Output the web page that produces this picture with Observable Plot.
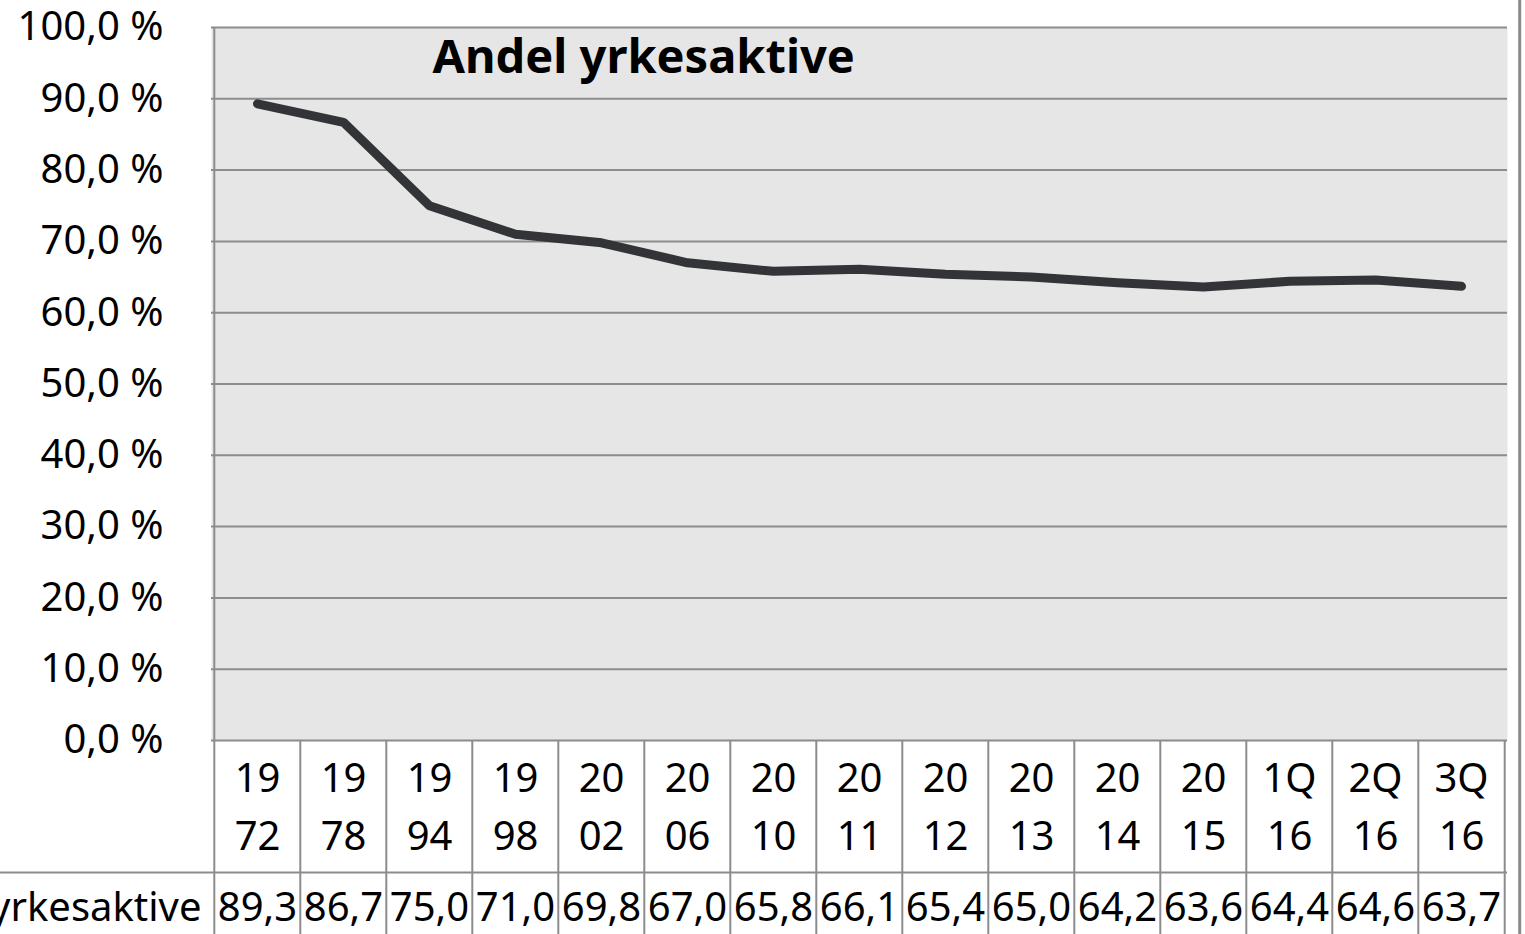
<!DOCTYPE html>
<html>
<head>
<meta charset="utf-8">
<script src="https://cdn.jsdelivr.net/npm/d3@7"></script>
<script src="https://cdn.jsdelivr.net/npm/@observablehq/plot@0.6"></script>
<style>
  html, body { margin: 0; padding: 0; background: #fff; overflow: hidden; }
</style>
</head>
<body>
<div id="chart"></div>
<script>
// ---- data ----
const categories = ["1972","1978","1994","1998","2002","2006","2010","2011","2012","2013","2014","2015","1Q16","2Q16","3Q16"];
const values = [89.3, 86.7, 75.0, 71.0, 69.8, 67.0, 65.8, 66.1, 65.4, 65.0, 64.2, 63.6, 64.4, 64.6, 63.7];
const yTicks = [0, 10, 20, 30, 40, 50, 60, 70, 80, 90, 100];
const seriesName = "Andel yrkesaktive";
const title = "Andel yrkesaktive";

const data = categories.map((c, i) => ({cat: c, value: values[i]}));

// ---- layout ----
const W = 1525, H = 934;
const mL = 211, mR = 18, mT = 27, mB = 194;
const plotH = H - mT - mB;
const bw = (W - mL - mR) / categories.length;
const grid = "#8c8c8c";
const fmt = v => v.toFixed(1).replace(".", ",");

const chart = Plot.plot({
  width: W,
  height: H,
  marginLeft: mL,
  marginRight: mR,
  marginTop: mT,
  marginBottom: mB,
  style: {fontFamily: "'Noto Sans', sans-serif", fontSize: "40px", color: "#000", background: "#fff"},
  x: {type: "band", domain: categories, padding: 0, axis: null},
  y: {domain: [0, 100], axis: null},
  marks: [
    Plot.frame({fill: "#e6e6e6", stroke: null}),
    Plot.ruleY(yTicks, {stroke: grid, strokeWidth: 2}),
    // table lines
    Plot.ruleY([0], {dy: 132, stroke: grid, strokeWidth: 2, insetLeft: -mL}),
    Plot.ruleX(categories.slice(1), {dx: -bw / 2, stroke: grid, strokeWidth: 2, insetTop: plotH, insetBottom: -mB}),
    Plot.ruleX(categories.slice(0, 1), {dx: -bw / 2, stroke: grid, strokeWidth: 2, insetTop: 0, insetBottom: -mB}),
    Plot.ruleX(categories.slice(-1), {dx: bw / 2, stroke: grid, strokeWidth: 2, insetTop: plotH, insetBottom: -mB}),
    // outer right border
    Plot.ruleX(categories.slice(-1), {dx: bw / 2 + 15, stroke: "#8a8a8a", strokeWidth: 3, insetTop: -mT, insetBottom: -mB}),
    // series line
    Plot.line(data, {x: "cat", y: "value", stroke: "#333438", strokeWidth: 9, strokeLinejoin: "round", strokeLinecap: "round"}),
    // title
    Plot.text([title], {frameAnchor: "top-left", textAnchor: "start", lineAnchor: "bottom", dx: 221, dy: 45, fontWeight: "bold", fontSize: 47, fill: "#000"}),
    // y axis labels
    Plot.axisY(yTicks, {tickSize: 0, tickPadding: 48, tickFormat: d => fmt(d) + " %", fontSize: 40, label: null, fill: "#000"}),
    // category labels
    Plot.text(categories, {x: d => d, text: d => d.slice(0, 2) + "\n" + d.slice(2), frameAnchor: "bottom", lineAnchor: "top", dy: 10, lineHeight: 1.45, fontSize: 40, fill: "#000"}),
    // data table row
    Plot.text(data, {x: "cat", text: d => fmt(d.value), frameAnchor: "bottom", lineAnchor: "bottom", dy: 180, fontSize: 40, fill: "#000"}),
    Plot.text([seriesName], {frameAnchor: "bottom-left", textAnchor: "end", lineAnchor: "bottom", dx: -10, dy: 180, fontSize: 40, fill: "#000"})
  ]
});
document.getElementById("chart").appendChild(chart);
</script>
</body>
</html>
